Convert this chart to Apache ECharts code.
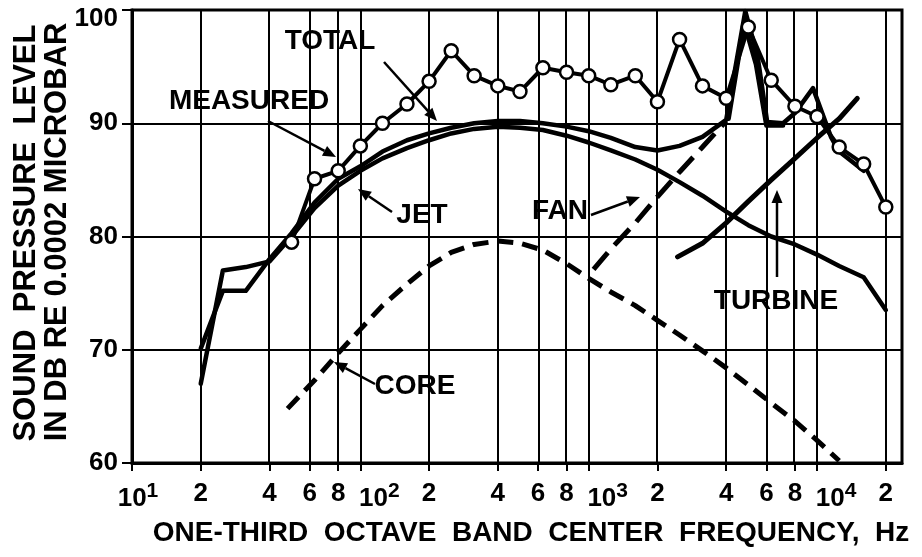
<!DOCTYPE html>
<html><head><meta charset="utf-8">
<script src="https://cdn.jsdelivr.net/npm/echarts@6/dist/echarts.min.js"></script>
<style>html,body{margin:0;padding:0;background:#fff}#c{width:922px;height:557px}</style>
</head><body><div id="c"></div>
<script>
// ---- data (frequency in Hz, level in dB) ----
const measuredFreq = [50,63,80,100,125,160,200,250,315,400,500,630,800,1000,1250,1600,2000,2500,3150,4000,5000,6300,8000,10000,12500,16000,20000];
const measuredSPL  = [79.5,85.1,85.8,88.0,90.0,91.7,93.7,96.4,94.2,93.3,92.8,94.9,94.5,94.2,93.4,94.2,91.9,97.4,93.3,92.2,98.5,93.8,91.5,90.6,87.9,86.4,82.6];

const totalFreq = [20,25,31.5,40,50,63,80,100,125,160,200,250,315,400,500,630,800,1000,1250,1600,2000,2500,3150,4000,4850,5500,6050,7100,8000,9600,11500,12500,16000];
const totalSPL  = [70.1,75.2,75.2,78.0,80.3,83.0,85.1,86.2,87.5,88.5,89.1,89.6,90.0,90.2,90.2,90.0,89.7,89.3,88.7,87.9,87.6,88.0,88.8,90.3,99.9,95.8,90.1,90.0,90.9,93.1,88.8,87.5,85.8];

const jetFreq = [20,25,31.5,40,50,63,80,100,125,160,200,250,315,400,500,630,800,1000,1250,1600,2000,2500,3150,4000,5000,6300,8000,10000,12500,16000,20000];
const jetSPL  = [67.0,77.0,77.3,77.8,80.0,82.5,84.5,85.8,86.9,87.8,88.5,89.1,89.5,89.7,89.6,89.4,88.9,88.3,87.6,86.8,85.9,84.8,83.6,82.2,81.0,80.0,79.3,78.4,77.4,76.4,73.5];

const coreFreq = [48,63,80,100,125,160,200,250,315,400,500,630,800,1000,1250,1600,2000,2500,3150,4000,5000,6300,8000,10000,12500];
const coreSPL  = [64.8,67.3,69.7,71.8,73.9,75.8,77.4,78.6,79.3,79.6,79.4,78.8,77.6,76.3,75.1,73.9,72.6,71.3,69.9,68.4,66.9,65.3,63.7,62.0,60.2];

const fanFreq = [1050,1250,1600,2000,2500,3150,4000];
const fanSPL  = [77.1,78.9,81.2,83.5,85.7,87.9,90.2];

const fanToneFreq = [4100,4800,5400,6000,7100];
const fanToneSPL  = [90.4,98.8,95.2,89.8,89.8];

const turbineFreq = [2450,3150,4000,5000,6300,8000,10000,12500,15000];
const turbineSPL  = [78.2,79.4,81.2,83.1,85.0,86.9,88.7,90.4,92.2];

const tickFreq   = [10,20,40,60,80,100,200,400,600,800,1000,2000,4000,6000,8000,10000,20000];
const tickLabels = ['10^1','2','4','6','8','10^2','2','4','6','8','10^3','2','4','6','8','10^4','2'];
const yTicks = [60,70,80,90,100];

// ---- helpers ----
const lg = Math.log10;
const pts = (f, v) => f.map((x, i) => [lg(x), v[i]]);
const FONT = '"Liberation Sans", Arial, Helvetica, sans-serif';
const tickVals = tickFreq.map(lg);

function labelFor(v) {
  let best = 0, d = 1e9;
  tickVals.forEach((t, i) => { const dd = Math.abs(t - v); if (dd < d) { d = dd; best = i; } });
  const s = tickLabels[best];
  if (s.indexOf('^') >= 0) {
    const p = s.split('^');
    return (best === 0 ? '{b1|' : '{bp|') + p[0] + '}{s|' + p[1] + '}';
  }
  return '{b|' + s + '}';
}

function arrow(x1, y1, x2, y2) {
  const a = Math.atan2(y2 - y1, x2 - x1), L = 13, W = 5.5;
  const bx = x2 - L * Math.cos(a), by = y2 - L * Math.sin(a);
  return [
    { type: 'line', z: 20, shape: { x1: x1, y1: y1, x2: bx, y2: by }, style: { stroke: '#000', lineWidth: 2.5 } },
    { type: 'polygon', z: 20, shape: { points: [[x2, y2], [bx - W * Math.sin(a), by + W * Math.cos(a)], [bx + W * Math.sin(a), by - W * Math.cos(a)]] }, style: { fill: '#000' } }
  ];
}
function blank(x, y, w, h) {
  return { type: 'rect', z: 5, shape: { x: x, y: y, width: w, height: h }, style: { fill: '#fff' } };
}
function label(text, x, y, size) {
  return { type: 'text', z: 21, x: x, y: y, style: { text: text, fill: '#000', font: 'bold ' + (size || 28) + 'px ' + FONT, align: 'center', verticalAlign: 'middle', textAlign: 'center', textVerticalAlign: 'middle' } };
}

const chart = echarts.init(document.getElementById('c'), null, { renderer: 'canvas' });

const graphics = [
  blank(275, 13, 117, 49), blank(158, 78, 184, 41), blank(388, 187, 68, 43),
  blank(524, 187, 70, 45), blank(368, 363, 92, 44), blank(704, 275, 142, 48),
  label('TOTAL', 330, 41), label('MEASURED', 249, 101), label('JET', 422, 215),
  label('FAN', 560, 211), label('CORE', 415, 386), label('TURBINE', 776, 301),
  ...arrow(384, 62, 437, 121), ...arrow(268, 121, 336, 157), ...arrow(392, 212, 358, 189),
  ...arrow(591, 215, 640, 197), ...arrow(375, 384, 334, 362), ...arrow(777, 277, 777, 190),
  { type: 'text', z: 21, x: 26, y: 233, rotation: Math.PI / 2, style: { text: 'SOUND  PRESSURE  LEVEL', fill: '#000', font: 'bold 31px ' + FONT, align: 'center', verticalAlign: 'middle', textAlign: 'center', textVerticalAlign: 'middle' } },
  { type: 'text', z: 21, x: 57, y: 232, rotation: Math.PI / 2, style: { text: 'IN DB RE 0.0002 MICROBAR', fill: '#000', font: 'bold 31px ' + FONT, align: 'center', verticalAlign: 'middle', textAlign: 'center', textVerticalAlign: 'middle' } },
  { type: 'text', z: 21, x: 531, y: 533, style: { text: 'ONE-THIRD  OCTAVE  BAND  CENTER  FREQUENCY,  Hz', fill: '#000', font: 'bold 28px ' + FONT, align: 'center', verticalAlign: 'middle', textAlign: 'center', textVerticalAlign: 'middle' } }
];

const solid = (name, data, w, z) => ({
  name: name, type: 'line', data: data, showSymbol: false, symbol: 'none', z: z || 10,
  lineStyle: { color: '#000', width: w, cap: 'round', join: 'round' }, silent: true
});
const dashed = (name, data, dash) => ({
  name: name, type: 'line', data: data, showSymbol: false, symbol: 'none', z: 10,
  lineStyle: { color: '#000', width: 5, type: dash, cap: 'butt' }, silent: true
});

chart.setOption({
  animation: false,
  backgroundColor: '#fff',
  grid: { left: 132, right: 20, top: 10, bottom: 94, show: true, borderColor: '#000', borderWidth: 3, backgroundColor: 'transparent' },
  xAxis: {
    type: 'value', min: 1, max: 4.372,
    axisLine: { show: true, onZero: false, lineStyle: { color: '#000', width: 3 } },
    axisTick: { show: true, customValues: tickVals, length: 8, lineStyle: { color: '#000', width: 2 } },
    splitLine: { show: false },
    axisLabel: {
      customValues: tickVals, margin: 18, color: '#000', formatter: labelFor,
      rich: {
        b: { fontSize: 26, fontWeight: 'bold', fontFamily: FONT, color: '#000' },
        b1: { fontSize: 26, fontWeight: 'bold', fontFamily: FONT, color: '#000', padding: [0, 0, 0, 12] },
        bp: { fontSize: 26, fontWeight: 'bold', fontFamily: FONT, color: '#000', padding: [0, 0, 0, 38] },
        s: { fontSize: 21, fontWeight: 'bold', fontFamily: FONT, color: '#000', padding: [0, 0, 14, 0] }
      }
    }
  },
  yAxis: {
    type: 'value', min: 60, max: 100, interval: 10,
    axisLine: { show: true, onZero: false, lineStyle: { color: '#000', width: 3 } },
    axisTick: { show: true, length: 10, lineStyle: { color: '#000', width: 2 } },
    splitLine: { show: true, lineStyle: { color: '#000', width: 2 } },
    axisLabel: {
      margin: 14, color: '#000',
      formatter: v => (v === 100 ? '{t|' + v + '}' : '{n|' + v + '}'),
      rich: {
        n: { fontSize: 26, fontWeight: 'bold', fontFamily: FONT, color: '#000' },
        t: { fontSize: 26, fontWeight: 'bold', fontFamily: FONT, color: '#000', padding: [18, 0, 0, 0] }
      }
    }
  },
  graphic: graphics,
  series: [
    {
      type: 'line', data: [[1, 60]], symbol: 'none', lineStyle: { width: 0 }, z: 1, silent: true,
      markLine: {
        silent: true, symbol: ['none', 'none'], label: { show: false }, animation: false,
        lineStyle: { color: '#000', width: 2, type: 'solid' },
        data: tickVals.slice(1).map(v => ({ xAxis: v }))
      }
    },
    dashed('CORE', pts(coreFreq, coreSPL), [16, 9]),
    dashed('FAN', pts(fanFreq, fanSPL), [22, 10]),
    solid('FAN TONE', pts(fanToneFreq, fanToneSPL), 4.5),
    solid('TURBINE', pts(turbineFreq, turbineSPL), 5),
    solid('JET', pts(jetFreq, jetSPL), 4.5),
    solid('TOTAL', pts(totalFreq, totalSPL), 4.5),
    {
      name: 'MEASURED', type: 'line', data: pts(measuredFreq, measuredSPL), z: 12, silent: true,
      symbol: 'circle', symbolSize: 13, showSymbol: true, showAllSymbol: true,
      itemStyle: { color: '#fff', borderColor: '#000', borderWidth: 2.5 },
      lineStyle: { color: '#000', width: 4 }
    }
  ]
});
</script></body></html>
